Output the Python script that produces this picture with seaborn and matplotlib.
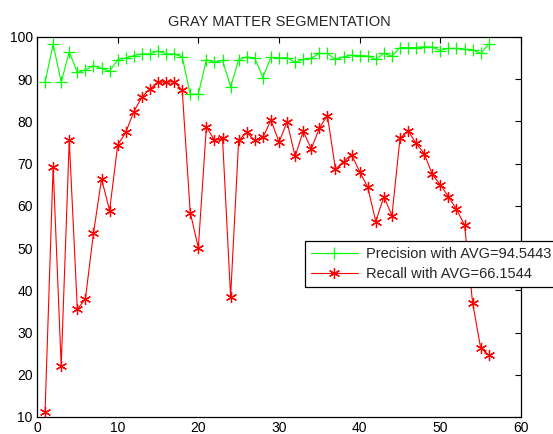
import numpy as np
import pandas as pd
import matplotlib
matplotlib.use("Agg")
import matplotlib.pyplot as plt
import seaborn as sns

x_index = list(range(1, 57))
precision = [89.3, 98.3, 89.3, 96.5, 91.6, 92.2, 93.2, 92.6, 91.9, 94.6,
             95.0, 95.6, 96.0, 96.0, 96.7, 96.0, 96.0, 95.3, 86.4, 86.5,
             94.6, 94.0, 94.5, 88.2, 94.6, 95.3, 95.0, 90.4, 95.2, 95.0,
             95.1, 94.0, 94.7, 95.0, 96.1, 96.1, 94.7, 95.3, 95.7, 95.6,
             95.5, 94.7, 96.1, 95.5, 97.5, 97.5, 97.5, 97.7, 97.6, 96.8,
             97.3, 97.3, 97.1, 97.0, 96.1, 98.3]
recall = [11.3, 69.3, 22.1, 75.6, 35.5, 38.0, 53.5, 66.4, 58.9, 74.4,
          77.4, 82.3, 85.8, 87.7, 89.3, 89.3, 89.4, 87.4, 58.4, 50.1,
          78.8, 75.5, 76.0, 38.5, 75.5, 77.4, 75.5, 76.2, 80.3, 75.1,
          79.9, 71.7, 77.7, 73.5, 78.4, 81.4, 68.7, 70.5, 72.1, 68.1,
          64.4, 56.3, 62.2, 57.7, 76.0, 77.8, 74.8, 72.4, 67.5, 65.0,
          62.2, 59.2, 55.5, 37.1, 26.3, 24.7]
labels = ["Precision with AVG=94.5443", "Recall with AVG=66.1544"]
title = "GRAY MATTER SEGMENTATION"
x_ticks = [0, 10, 20, 30, 40, 50, 60]
y_ticks = [10, 20, 30, 40, 50, 60, 70, 80, 90, 100]

sns.set_theme(style="white")
plt.rcParams['font.family'] = ['Liberation Sans', 'DejaVu Sans']

fig = plt.figure(figsize=(5.53, 4.34), dpi=100)
ax = fig.add_axes([37/553, 17/434, (521-37)/553, (417-37)/434])

green = (0, 1, 0)
red = (1, 0, 0)
asterisk = (6, 2, 0)
sns.lineplot(x=x_index, y=precision, ax=ax, color=green, marker='+',
             markersize=9, markeredgewidth=0.9, markeredgecolor=green,
             markerfacecolor=green, linewidth=0.8, label=labels[0])
sns.lineplot(x=x_index, y=recall, ax=ax, color=red, marker=asterisk,
             markersize=8, markeredgewidth=0.9, markeredgecolor=red,
             markerfacecolor=red, linewidth=0.8, label=labels[1])

ax.set_xlim(0, 60)
ax.set_ylim(10, 100)
ax.set_xticks(x_ticks)
ax.set_yticks(y_ticks)
ax.tick_params(direction='in', length=4, width=0.8, top=True, right=True,
               labelsize=10, colors='black', pad=3)
for s in ax.spines.values():
    s.set_visible(True)
    s.set_color('black')
    s.set_linewidth(0.9)
ax.set_title(title, fontsize=10.5, pad=8)

leg = ax.legend(loc='upper left', bbox_to_anchor=(305/553, 1 - 241/434),
                bbox_transform=fig.transFigure, fontsize=10.5, frameon=True,
                fancybox=False, framealpha=1, edgecolor='black',
                borderpad=0.4, handlelength=3.2, handletextpad=0.6,
                labelspacing=0.45, borderaxespad=0)
leg.get_frame().set_linewidth(0.9)

fig.savefig("out.png", dpi=100, facecolor='white')
